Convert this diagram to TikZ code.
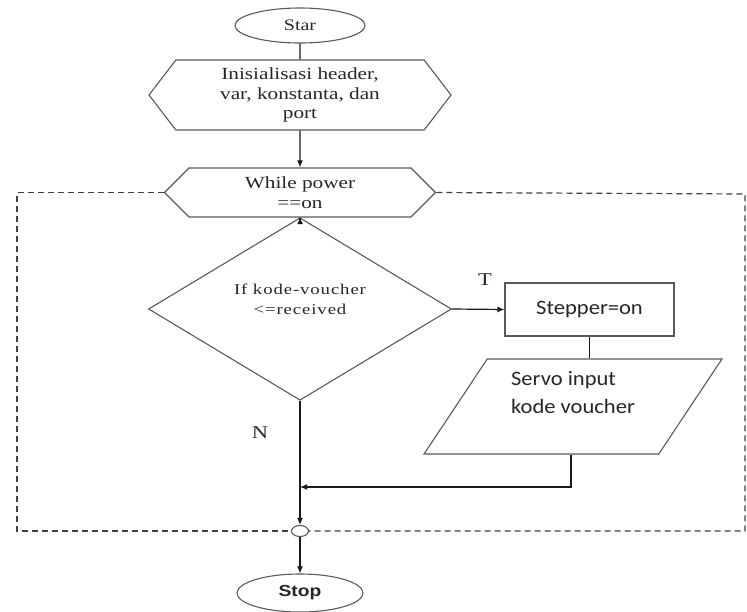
\documentclass[tikz,border=0pt]{standalone}
\usepackage{fontspec}
\setmainfont{Liberation Serif}[FakeStretch=1.25]
\newfontfamily\calfont[FakeStretch=1.1]{Carlito}
\newfontfamily\stopfont[FakeStretch=1.2]{Liberation Sans}
\newfontfamily\condfont[FakeStretch=1.25,LetterSpace=6]{Liberation Serif}
\usetikzlibrary{shapes.geometric,shapes.symbols,arrows.meta}

\begin{document}
\begin{tikzpicture}[x=1pt,y=-1pt,
        outline/.style={draw=black!65,line width=1.1pt,text=black!85},
        hexa/.style={outline,shape=signal,signal to=west and east,inner sep=0pt,align=center},
        link/.style={line width=1.2pt,black!90},
        arr/.style={link,-{Latex[length=7pt,width=6pt]}},
        loopline/.style={line width=1.2pt,black!75,dash pattern=on 6pt off 4pt}]
                   \useasboundingbox (0,0) rectangle (747,611);

                   \node[outline,ellipse,minimum width=130pt,minimum height=35pt,inner sep=0pt,
                         font=\fontsize{16}{18}\selectfont] (star) at (300,25.5) {Star};
                   \node[hexa,minimum width=302pt,minimum height=70pt,signal pointer angle=105,
                         font=\fontsize{17}{19.5}\selectfont] (init) at (300,95) {Inisialisasi header,\\var, konstanta, dan\\port};
                   \node[hexa,minimum width=271pt,minimum height=49pt,signal pointer angle=90,
                         font=\fontsize{17}{20}\selectfont] (power) at (300,192.5) {While power\\==on};
                   \node[outline,diamond,minimum width=303pt,minimum height=138pt,inner sep=0pt,align=center,
                         font=\condfont\fontsize{15}{20}\selectfont] (cond) at (300,309) {If kode-voucher\\<=received\\\mbox{}};
                   \node[outline,rectangle,minimum width=169pt,minimum height=53pt,
                         font=\calfont\fontsize{20.5}{24}\selectfont] (stepper) at (589.5,309.5) {Stepper=on};
                   \node[outline,trapezium,trapezium left angle=57,trapezium right angle=123,trapezium stretches=true,
                         minimum width=298pt,minimum height=95pt,inner sep=0pt,align=left,
                         font=\calfont\fontsize{20.5}{28}\selectfont] (servo) at (573,406.5) {Servo input\\kode voucher\\\mbox{}};
                   \node[outline,ellipse,minimum width=17pt,minimum height=11pt,inner sep=0pt,fill=white] (join) at (300,531) {};
                   \node[outline,ellipse,minimum width=126pt,minimum height=38pt,inner sep=0pt,
                         font=\stopfont\bfseries\fontsize{16}{18}\selectfont] (stop) at (300,593) {Stop};

                   \node[font=\fontsize{18}{20}\selectfont,text=black!85] (yes) at (485,280) {T};
                   \node[font=\fontsize{18}{20}\selectfont,text=black!85] (no) at (260,433) {N};

                   \coordinate (merge) at (300,487);
                   \coordinate (bend) at (571,487);
                   \coordinate (tl) at (17,192.5);
                   \coordinate (bl) at (17,531);
                   \coordinate (tr) at (745,194);
                   \coordinate (br) at (745,531);

                   \draw[link] (star) -- (init);
                   \draw[arr] (init) -- (power);
                   \draw[arr] (power) -- (cond);
                   \draw[arr] (cond.east) -- (stepper.west);
                   \draw[link] (stepper.south) -- (stepper.south |- servo.north);
                   \draw[arr] (servo.south -| bend) -- (bend) -- (merge);
                   \draw[arr] (cond.south) -- (join.north);
                   \draw[arr] (join.south) -- (stop.north);

                   \draw[loopline] (power.west) -- (tl) -- (bl) -- (join.west);
                   \draw[loopline] (power.east) -- (tr) -- (br) -- (join.east);
\end{tikzpicture}
\end{document}
